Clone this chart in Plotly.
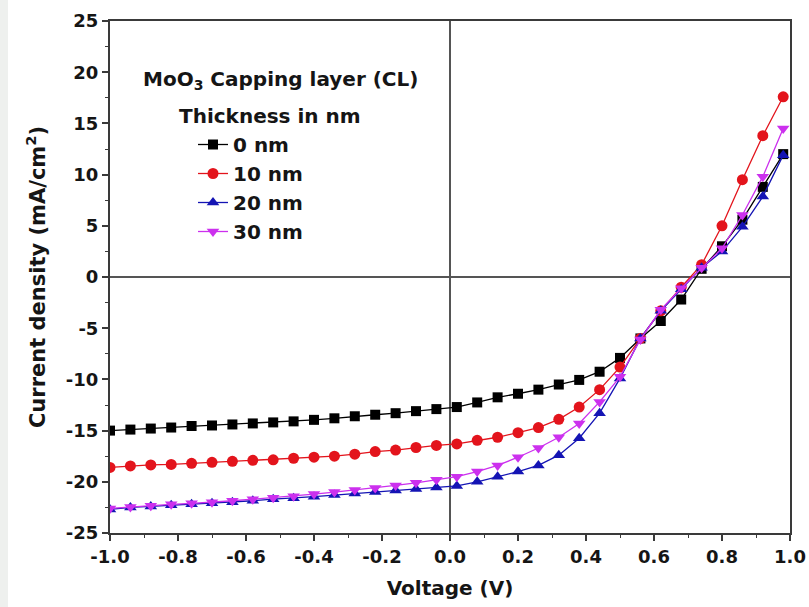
import plotly.graph_objects as go

voltage = [round(-1 + 0.06 * i, 2) for i in range(34)]

j_0nm = [-15.0, -14.9, -14.8, -14.7, -14.55, -14.5, -14.4, -14.3, -14.2, -14.1,
         -13.95, -13.8, -13.6, -13.45, -13.3, -13.1, -12.9, -12.7, -12.25, -11.75,
         -11.4, -11.0, -10.5, -10.05, -9.25, -7.9, -6.0, -4.3, -2.2, 0.8,
         3.0, 5.6, 8.8, 12.0]
j_10nm = [-18.6, -18.45, -18.35, -18.3, -18.2, -18.1, -18.0, -17.9, -17.85, -17.7,
          -17.6, -17.5, -17.3, -17.05, -16.9, -16.65, -16.45, -16.3, -15.95, -15.65,
          -15.2, -14.7, -13.9, -12.7, -11.0, -8.8, -6.0, -3.3, -1.0, 1.2,
          5.0, 9.5, 13.8, 17.6]
j_20nm = [-22.7, -22.5, -22.4, -22.3, -22.2, -22.1, -22.0, -21.85, -21.7, -21.6,
          -21.45, -21.3, -21.15, -21.0, -20.85, -20.7, -20.55, -20.4, -20.0, -19.5,
          -19.0, -18.4, -17.4, -15.75, -13.3, -9.9, -6.0, -3.3, -1.2, 0.9,
          2.5, 4.9, 7.85, 11.9]
j_30nm = [-22.6, -22.45, -22.35, -22.2, -22.1, -22.0, -21.85, -21.7, -21.55, -21.4,
          -21.2, -21.0, -20.8, -20.6, -20.35, -20.1, -19.8, -19.5, -19.0, -18.4,
          -17.6, -16.7, -15.65, -14.3, -12.2, -9.75, -6.1, -3.2, -1.1, 0.9,
          2.8, 6.05, 9.8, 14.5]

x_ticks = [-1.0, -0.8, -0.6, -0.4, -0.2, 0.0, 0.2, 0.4, 0.6, 0.8, 1.0]
x_tick_labels = ["-1.0", "-0.8", "-0.6", "-0.4", "-0.2", "0.0", "0.2", "0.4", "0.6", "0.8", "1.0"]
y_ticks = [-25, -20, -15, -10, -5, 0, 5, 10, 15, 20, 25]
y_tick_labels = ["-25", "-20", "-15", "-10", "-5", "0", "5", "10", "15", "20", "25"]

series = [
    ("0 nm", j_0nm, "#000000", "square", 10),
    ("10 nm", j_10nm, "#e3141c", "circle", 11),
    ("20 nm", j_20nm, "#1414b4", "triangle-up", 11),
    ("30 nm", j_30nm, "#cc30ee", "triangle-down", 11),
]

fig = go.Figure()
for i, (name, ys, col, sym, sz) in enumerate(series):
    fig.add_trace(go.Scatter(
        x=voltage, y=ys, name=name, mode="lines+markers",
        line=dict(color=col, width=1.3),
        marker=dict(symbol=sym, size=sz, color=col, line=dict(width=0)),
        legendgroup=f"g{i}",
    ))

ff = "DejaVu Sans, Liberation Sans, Arial, sans-serif"
txt = "#151515"
ax_col = "#3a3a3a"

fig.update_layout(
    width=809, height=607,
    margin=dict(l=110, r=19, t=21, b=74),
    paper_bgcolor="white", plot_bgcolor="white",
    font=dict(family=ff, color=txt),
    showlegend=True,
    legend=dict(
        x=(193 - 110) / 680, y=(533 - 125) / 512, xanchor="left", yanchor="top",
        bgcolor="rgba(0,0,0,0)", borderwidth=0,
        font=dict(size=20, weight="bold", family=ff, color=txt),
        tracegroupgap=0,
    ),
    xaxis=dict(
        range=[-1.0, 1.0], tickmode="array",
        tickvals=x_ticks, ticktext=x_tick_labels,
        ticks="outside", ticklen=6, tickwidth=1.5, tickcolor=ax_col,
        minor=dict(ticks="outside", ticklen=3, tickwidth=1.2, tickcolor=ax_col, dtick=0.1, showgrid=False),
        showline=True, linecolor=ax_col, linewidth=2, mirror=True,
        showgrid=False, zeroline=True, zerolinecolor="#555555", zerolinewidth=1.5,
        tickfont=dict(size=18, weight="bold", family=ff, color=txt),
        title=dict(text="Voltage (V)", font=dict(size=20, weight="bold", family=ff, color=txt)),
        automargin=False,
    ),
    yaxis=dict(
        range=[-25, 25], tickmode="array",
        tickvals=y_ticks, ticktext=y_tick_labels,
        ticks="outside", ticklen=6, tickwidth=1.5, tickcolor=ax_col,
        minor=dict(ticks="outside", ticklen=3, tickwidth=1.2, tickcolor=ax_col, dtick=2.5, showgrid=False),
        showline=True, linecolor=ax_col, linewidth=2, mirror=True,
        showgrid=False, zeroline=True, zerolinecolor="#555555", zerolinewidth=1.5,
        tickfont=dict(size=18, weight="bold", family=ff, color=txt),
        title=dict(text="Current density (mA/cm<sup>2</sup>)", font=dict(size=21, weight="bold", family=ff, color=txt)),
        automargin=False,
    ),
    annotations=[
        dict(text="MoO<sub>3</sub> Capping layer (CL)", xref="paper", yref="paper",
             x=(280 - 110) / 680, y=(533 - 80) / 512, xanchor="center", yanchor="middle",
             showarrow=False, font=dict(size=20, weight="bold", family=ff, color=txt)),
        dict(text="Thickness in nm", xref="paper", yref="paper",
             x=(270 - 110) / 680, y=(533 - 116) / 512, xanchor="center", yanchor="middle",
             showarrow=False, font=dict(size=20, weight="bold", family=ff, color=txt)),
    ],
    shapes=[
        dict(type="rect", xref="paper", yref="paper",
             x0=-110 / 680, x1=(8 - 110) / 680, y0=-74 / 512, y1=1 + 21 / 512,
             fillcolor="#eef0ee", line=dict(width=0), layer="below"),
    ],
)

fig.write_html("out.html", config={"displayModeBar": False},
               post_script="document.body.style.margin='0';")
